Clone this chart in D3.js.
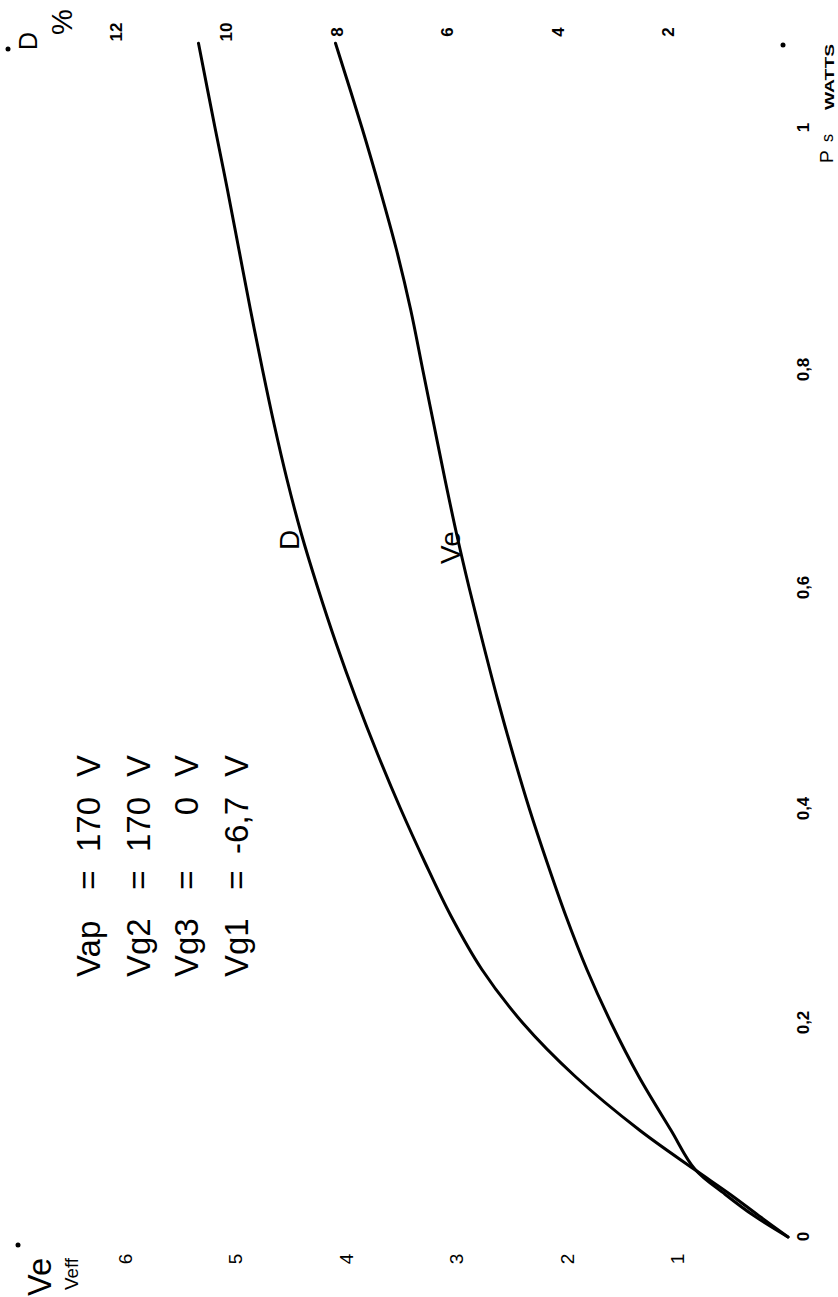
<!DOCTYPE html>
<html><head><meta charset="utf-8">
<script src="https://cdn.jsdelivr.net/npm/d3@7"></script>
<style>html,body{margin:0;padding:0;background:#fff;} svg{display:block;background:#fff}</style>
</head><body>
<svg id="chart" width="838" height="1297"></svg>
<script>
// ---- data ----
const psValues = [0, 0.02, 0.04, 0.063, 0.1, 0.15, 0.2, 0.25, 0.3, 0.35, 0.4, 0.45, 0.5, 0.55, 0.6, 0.65, 0.7, 0.75, 0.8, 0.85, 0.9, 0.95, 1.0, 1.07];
const dValues  = [0, 0.53, 1.05, 1.69, 2.69, 3.85, 4.80, 5.54, 6.10, 6.57, 7.01, 7.43, 7.82, 8.18, 8.51, 8.81, 9.07, 9.30, 9.51, 9.73, 9.94, 10.15, 10.37, 10.67];
const veValues = [0, 0.31, 0.57, 0.84, 1.06, 1.35, 1.60, 1.82, 2.01, 2.18, 2.34, 2.49, 2.63, 2.76, 2.885, 3.0, 3.105, 3.205, 3.305, 3.415, 3.545, 3.695, 3.855, 4.095];
const psTicks = [0, 0.2, 0.4, 0.6, 0.8, 1];
const psTickLabels = ["0", "0,2", "0,4", "0,6", "0,8", "1"];
const veTicks = [1, 2, 3, 4, 5, 6];
const dTicks = [2, 4, 6, 8, 10, 12];
const conditionNames = ["Vap", "Vg2", "Vg3", "Vg1"];
const conditionValues = ["170", "170", "0", "-6,7"];
const conditionUnit = "V";

// ---- drawing: chart is built in landscape frame, then rotated -90deg ----
const svg = d3.select("#chart");
const g = svg.append("g").attr("transform", "translate(0,1297) rotate(-90)");
const FONT = "'Liberation Sans', Arial, Helvetica, sans-serif";

const x = d3.scaleLinear().domain(psTicks).range([60, 274, 488, 709, 927, 1169]);
const yVe = d3.scaleLinear().domain([0, 6]).range([788, 125]);
const yD = d3.scaleLinear().domain([0, 12]).range([788, 125]);

// curves
const lineVe = d3.line().x((d, i) => x(psValues[i])).y(d => yVe(d)).curve(d3.curveCatmullRom.alpha(0.5));
const lineD = d3.line().x((d, i) => x(psValues[i])).y(d => yD(d)).curve(d3.curveCatmullRom.alpha(0.5));
g.append("path").datum(dValues).attr("d", lineD)
  .attr("fill", "none").attr("stroke", "#000").attr("stroke-width", 3).attr("stroke-linecap", "round");
g.append("path").datum(veValues).attr("d", lineVe)
  .attr("fill", "none").attr("stroke", "#000").attr("stroke-width", 3).attr("stroke-linecap", "round");

// Ps axis
const axPs = d3.axisBottom(x).tickValues(psTicks).tickFormat((d, i) => psTickLabels[i]).tickSize(0).tickPadding(9);
g.append("g").attr("transform", "translate(0,788)").call(axPs)
  .call(s => s.select(".domain").remove())
  .selectAll("text").style("font-family", FONT).style("font-size", "17px").style("font-weight", "bold");

// Ve axis (left)
const axVe = d3.axisLeft(yVe).tickValues(veTicks).tickFormat(d3.format("d")).tickSize(0).tickPadding(0);
g.append("g").attr("transform", "translate(38,0)").call(axVe)
  .call(s => s.select(".domain").remove())
  .selectAll("text").attr("x", 0).attr("text-anchor", "middle")
  .style("font-family", FONT).style("font-size", "19px");

// D axis (right)
const axD = d3.axisRight(yD).tickValues(dTicks).tickFormat(d3.format("d")).tickSize(0).tickPadding(0);
g.append("g").attr("transform", "translate(1265,-9)").call(axD)
  .call(s => s.select(".domain").remove())
  .selectAll("text").attr("x", 0).attr("text-anchor", "middle")
  .style("font-family", FONT).style("font-size", "17px").style("font-weight", "bold");

function txt(str, X, Y, size, opts = {}) {
  const t = g.append("text").attr("x", X).attr("y", Y).text(str)
    .style("font-family", FONT).style("font-size", size + "px")
    .attr("text-anchor", opts.anchor || "start");
  if (opts.bold) t.style("font-weight", "bold");
  if (opts.len) t.attr("textLength", opts.len).attr("lengthAdjust", "spacingAndGlyphs");
  return t;
}

// axis titles
txt("Ve", 1, 51, 33, {len: 38});
txt("Veff", 7, 78, 19, {len: 32});
txt("D", 1247, 37, 25);
txt("%", 1262, 72, 29);
txt("P", 1134, 833, 19);
txt("s", 1155, 833, 16);
txt("WATTS", 1187, 834, 13, {bold: true, len: 66});

// curve labels
txt("D", 747, 299, 28);
txt("Ve", 733, 460, 28);

// operating conditions
const rowY = [100, 150, 198, 248];
conditionNames.forEach((n, i) => {
  txt(n, 320, rowY[i], 33);
  txt("=", 417, rowY[i], 33, {anchor: "middle"});
  txt(conditionValues[i], 500, rowY[i], 33, {anchor: "end"});
  txt(conditionUnit, 520, rowY[i], 33);
});

// corner marks
[[1248, 8], [52, 18], [1252, 783]].forEach(p => {
  g.append("circle").attr("cx", p[0]).attr("cy", p[1]).attr("r", 2.5).attr("fill", "#000");
});
</script>
</body></html>
